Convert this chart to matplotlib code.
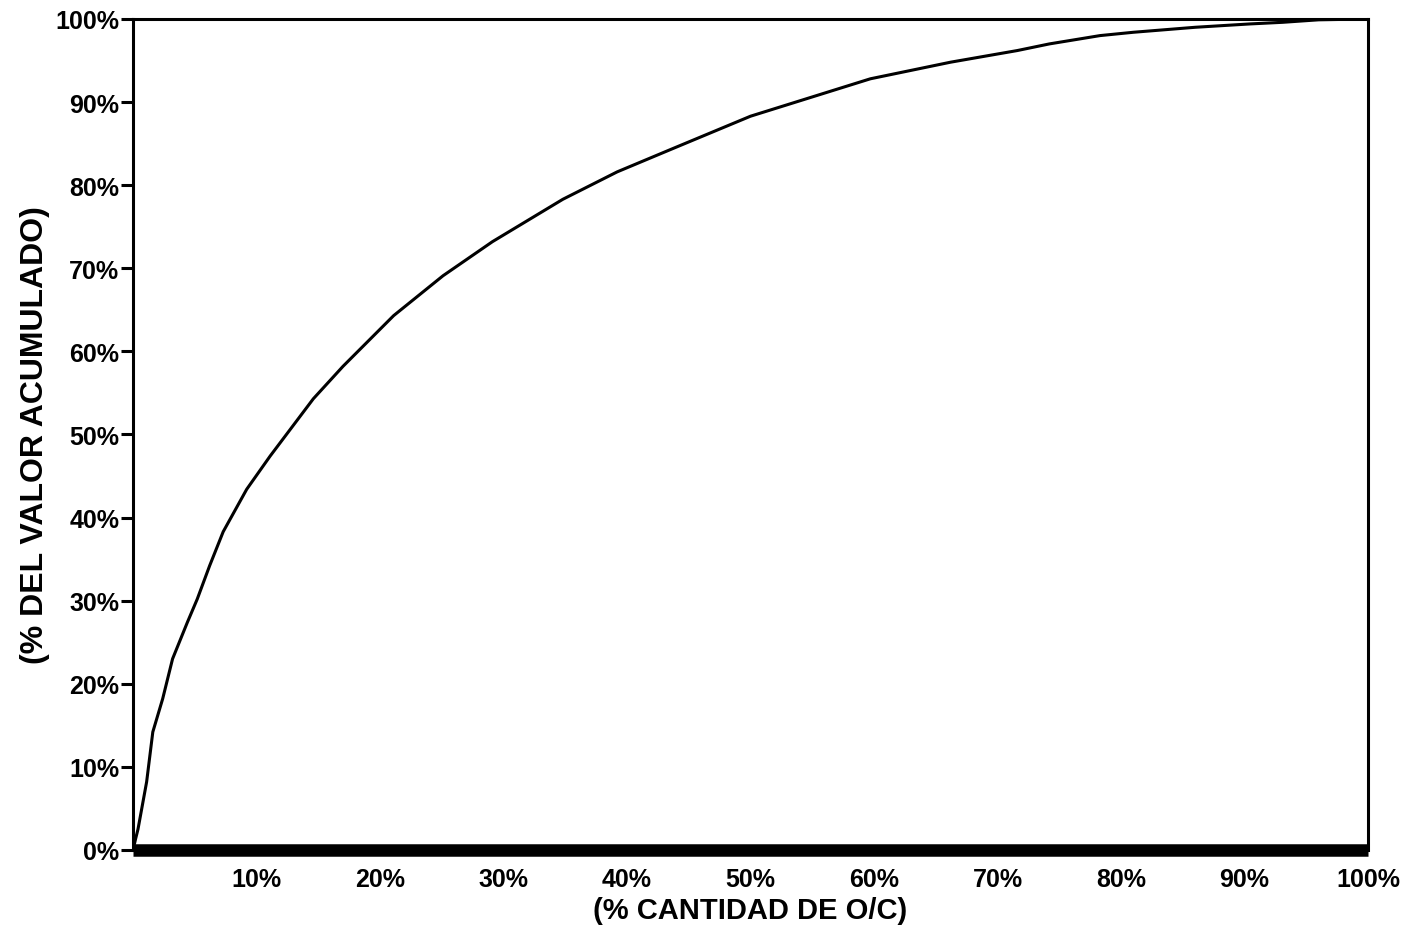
import matplotlib
matplotlib.use("Agg")
import matplotlib.pyplot as plt

# % cantidad de O/C (x) y % del valor acumulado (y)
x_cant = [0, 0.2, 0.4, 1.1, 1.6, 2.4, 3.2, 4.4, 5.2, 6.2, 7.3, 9.2, 11.1, 14.6,
          17.0, 21.1, 25.1, 29.1, 34.8, 39.2, 43.7, 50.0, 59.7, 66.2, 71.6,
          74.2, 78.3, 81.0, 86.0, 90.4, 93.1, 96.0, 100.0]
y_acum = [0, 1.3, 2.5, 8.2, 14.2, 18.2, 23.0, 27.4, 30.2, 34.2, 38.3, 43.4, 47.4, 54.3,
          58.2, 64.3, 69.1, 73.2, 78.3, 81.6, 84.4, 88.3, 92.8, 94.8, 96.2,
          97.0, 98.0, 98.4, 99.0, 99.4, 99.6, 99.9, 100.0]

x_ticks = [10, 20, 30, 40, 50, 60, 70, 80, 90, 100]
y_ticks = [0, 10, 20, 30, 40, 50, 60, 70, 80, 90, 100]

plt.rcParams['font.family'] = ['Liberation Sans', 'DejaVu Sans']

fig = plt.figure(figsize=(14.2, 9.29), dpi=100)
ax = fig.add_axes([0.0937, 0.084, 0.8697, 0.8945])

ax.plot(x_cant, y_acum, color='black', linewidth=2.2)

ax.set_xlim(0, 100)
ax.set_ylim(0, 100)

ax.set_yticks(y_ticks)
ax.set_yticklabels([f"{v}%" for v in y_ticks], fontsize=18, fontweight='bold')
ax.set_xticks(x_ticks)
ax.set_xticklabels([f"{v}%" for v in x_ticks], fontsize=18, fontweight='bold')

ax.tick_params(axis='y', direction='out', length=9, width=2.2, pad=1)
ax.tick_params(axis='x', length=0, pad=12)

for s in ['left', 'top', 'right']:
    ax.spines[s].set_linewidth(2.2)
ax.spines['bottom'].set_linewidth(9)
ax.spines['bottom'].set_capstyle('butt')

ax.set_xlabel("(% CANTIDAD DE O/C)", fontsize=21, fontweight='bold', labelpad=4)
ax.set_ylabel("(% DEL VALOR ACUMULADO)", fontsize=23, fontweight='bold', labelpad=4)

fig.savefig("out.png", dpi=100)
plt.close()
